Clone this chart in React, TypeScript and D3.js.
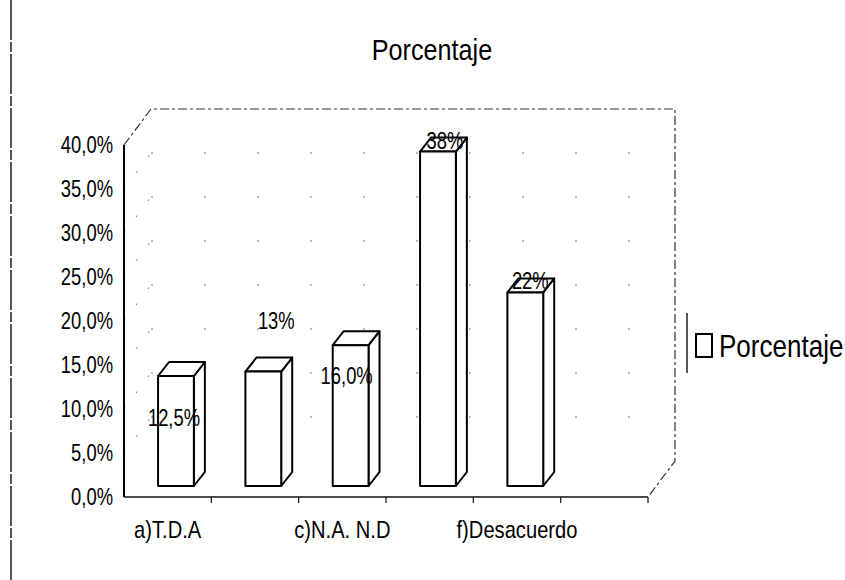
import React from "react";
import * as d3 from "d3";

// chart data
const categories = ["a)T.D.A", "b", "c)N.A. N.D", "d", "f)Desacuerdo", "g"];
const shownLabels = ["a)T.D.A", "c)N.A. N.D", "f)Desacuerdo"];
const values = [12.5, 13, 16, 38, 22];
const valueLabels = ["12,5%", "13%", "16,0%", "38%", "22%"];
const yTicks = [0, 5, 10, 15, 20, 25, 30, 35, 40];
const seriesName = "Porcentaje";
const title = "Porcentaje";

const FONT = "'Liberation Sans', Arial, sans-serif";

class App extends React.Component<{}, {}> {
	myRef: React.RefObject<HTMLDivElement | null>;
	renderd: boolean = false;

	constructor(props: {}) {
		super(props);
		this.myRef = React.createRef();
	}

	componentDidMount() {
		if (this.renderd) {
			return;
		}
		document.body.style.margin = "0";

		const width = 845;
		const height = 580;
		const svg = d3.select(this.myRef.current).append("svg")
			.attr("width", width).attr("height", height)
			.style("display", "block")
			.style("background", "#fff");

		// condensed text helper (the original uses a narrow face)
		const label = (g: d3.Selection<any, any, any, any>, tx: number, ty: number, txt: string, size: number, anchor = "middle", squeeze = 0.8) =>
			g.append("text")
				.attr("transform", `translate(${tx},${ty}) scale(${squeeze},1)`)
				.attr("text-anchor", anchor)
				.attr("font-family", FONT).attr("font-size", size)
				.attr("fill", "#000")
				.text(txt);

		// plot frame
		const left = 124, right = 648, bottom = 497, top = 145;
		const wallDx = 27, wallDy = -36; // depth of the back wall
		const barDx = 11, barDy = -14;   // depth of each bar
		const floorLift = 11;            // bars stand a bit behind the front edge

		const x = d3.scaleBand().domain(categories).range([left, right]).padding(0);
		const yAxis = d3.scaleLinear().domain([0, 40]).range([bottom, top]);
		const yBar = d3.scaleLinear().domain([0, 40]).range([bottom - floorLift, top - floorLift]);

		const pct = d3.formatLocale({ decimal: ",", thousands: ".", grouping: [3], currency: ["", "€"] }).format(".1f");

		// left border of the picture
		svg.append("line")
			.attr("x1", 11).attr("x2", 11).attr("y1", 0).attr("y2", height)
			.attr("stroke", "#222").attr("stroke-width", 1.5)
			.attr("stroke-dasharray", "40,2,10,2");

		// title
		label(svg, 432, 60, title, 30, "middle", 0.84);

		// back wall gridlines (faint, dotted)
		const grid = svg.append("g");
		grid.selectAll("line.h")
			.data(yTicks.filter(d => d > 0 && d < 40))
			.enter().append("line")
			.attr("x1", left + wallDx).attr("x2", right + wallDx)
			.attr("y1", d => yAxis(d) + wallDy).attr("y2", d => yAxis(d) + wallDy)
			.attr("stroke", "#777").attr("stroke-width", 1)
			.attr("stroke-dasharray", "2,51");
		grid.selectAll("line.s")
			.data(yTicks.filter(d => d > 0 && d < 40))
			.enter().append("line")
			.attr("x1", left).attr("x2", left + wallDx)
			.attr("y1", d => yAxis(d)).attr("y2", d => yAxis(d) + wallDy)
			.attr("stroke", "#777").attr("stroke-width", 1)
			.attr("stroke-dasharray", "2,18");

		// back wall frame
		svg.append("path")
			.attr("d", `M${left},${top} L${left + wallDx},${top + wallDy} L${right + wallDx},${top + wallDy} L${right + wallDx},${bottom + wallDy} L${right},${bottom}`)
			.attr("fill", "none").attr("stroke", "#333").attr("stroke-width", 1.2)
			.attr("stroke-dasharray", "9,3,3,3");

		// y axis
		svg.append("line")
			.attr("x1", left).attr("x2", left).attr("y1", bottom).attr("y2", top)
			.attr("stroke", "#000").attr("stroke-width", 2);
		yTicks.forEach(t => label(svg, left - 11, yAxis(t) + 8, pct(t) + "%", 23, "end"));

		// x axis
		svg.append("line")
			.attr("x1", left).attr("x2", right).attr("y1", bottom).attr("y2", bottom)
			.attr("stroke", "#111").attr("stroke-width", 1.5);
		svg.selectAll("line.xtick")
			.data(categories)
			.enter().append("line")
			.attr("x1", d => (x(d) as number) + x.bandwidth()).attr("x2", d => (x(d) as number) + x.bandwidth())
			.attr("y1", bottom).attr("y2", bottom + 6)
			.attr("stroke", "#111").attr("stroke-width", 1.2);
		shownLabels.forEach(c => label(svg, (x(c) as number) + x.bandwidth() / 2, 538, c, 24, "middle", 0.84));

		// 3D bars
		const bw = x.bandwidth() * 0.41;
		const bars = svg.append("g")
			.attr("fill", "#fff").attr("stroke", "#000").attr("stroke-width", 2).attr("stroke-linejoin", "round");
		values.forEach((v, i) => {
			const x0 = (x(categories[i]) as number) + x.bandwidth() * 0.39;
			const x1 = x0 + bw;
			const y0 = yBar(0);
			const y1 = yBar(v);
			bars.append("path").attr("d",
				`M${x1},${y0} L${x1 + barDx},${y0 + barDy} L${x1 + barDx},${y1 + barDy} L${x1},${y1} Z`);
			bars.append("path").attr("d",
				`M${x0},${y1} L${x0 + barDx},${y1 + barDy} L${x1 + barDx},${y1 + barDy} L${x1},${y1} Z`);
			bars.append("rect").attr("x", x0).attr("y", y1).attr("width", bw).attr("height", y0 - y1);
		});

		// data labels, nudged where the original put them
		const nudgeX = [-2, 13, -4, 7, 5];
		const nudgeY = [50, -43, 39, -3, -3];
		values.forEach((v, i) => {
			const cx = (x(categories[i]) as number) + x.bandwidth() * 0.39 + bw / 2;
			label(svg, cx + nudgeX[i], yBar(v) + nudgeY[i], valueLabels[i], 23);
		});

		// legend
		const lg = svg.append("g");
		lg.append("line")
			.attr("x1", 687).attr("x2", 687).attr("y1", 313).attr("y2", 373)
			.attr("stroke", "#222").attr("stroke-width", 1.5);
		lg.append("rect")
			.attr("x", 696).attr("y", 334).attr("width", 16).attr("height", 23)
			.attr("fill", "#fff").attr("stroke", "#000").attr("stroke-width", 2);
		label(lg, 719, 357, seriesName, 31, "start", 0.84);

		this.renderd = true;
	}

	render() {
		return <div ref={this.myRef} />;
	}
}

export default App;
